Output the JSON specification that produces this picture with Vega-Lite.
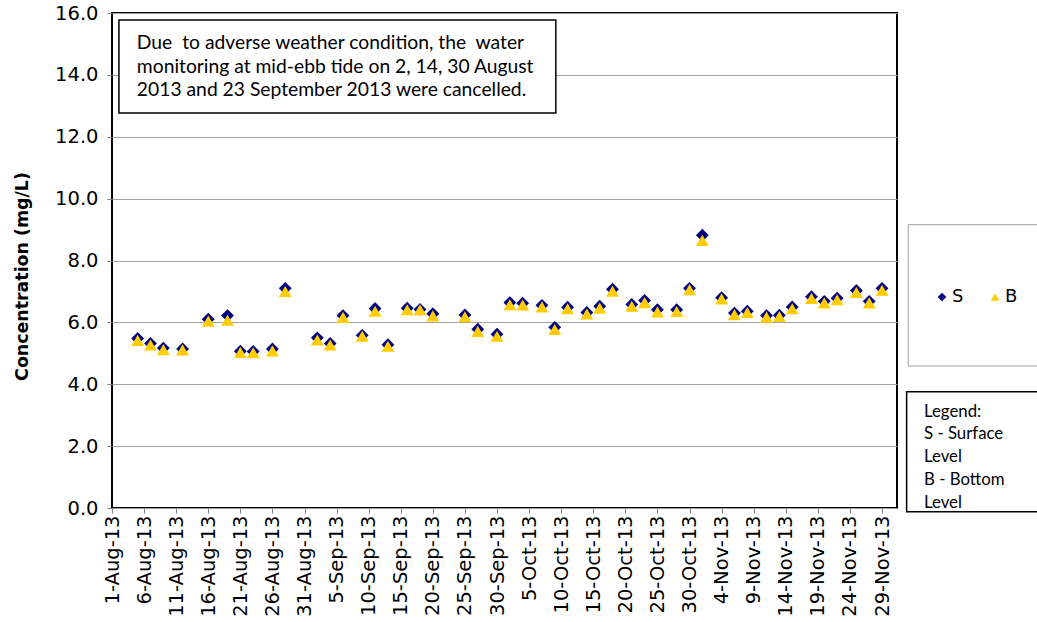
{
  "$schema": "https://vega.github.io/schema/vega-lite/v6.json",
  "width": 785,
  "height": 495,
  "autosize": {"type": "none"},
  "padding": {"left": 112, "top": 13, "right": 140, "bottom": 114},
  "background": "white",
  "config": {
    "view": {"stroke": "black", "strokeWidth": 2},
    "font": "DejaVu Sans"
  },
  "layer": [
    {
      "data": {
        "values": [
          {"date": "2013-08-05", "S": 5.48, "B": 5.42},
          {"date": "2013-08-07", "S": 5.32, "B": 5.27},
          {"date": "2013-08-09", "S": 5.17, "B": 5.12},
          {"date": "2013-08-12", "S": 5.14, "B": 5.11},
          {"date": "2013-08-16", "S": 6.1, "B": 6.04},
          {"date": "2013-08-19", "S": 6.22, "B": 6.07},
          {"date": "2013-08-21", "S": 5.07, "B": 5.03},
          {"date": "2013-08-23", "S": 5.06, "B": 5.02},
          {"date": "2013-08-26", "S": 5.14, "B": 5.08},
          {"date": "2013-08-28", "S": 7.1, "B": 7.0},
          {"date": "2013-09-02", "S": 5.5, "B": 5.43},
          {"date": "2013-09-04", "S": 5.32, "B": 5.27},
          {"date": "2013-09-06", "S": 6.22, "B": 6.16},
          {"date": "2013-09-09", "S": 5.58, "B": 5.55},
          {"date": "2013-09-11", "S": 6.45, "B": 6.36},
          {"date": "2013-09-13", "S": 5.28, "B": 5.23},
          {"date": "2013-09-16", "S": 6.46, "B": 6.41},
          {"date": "2013-09-18", "S": 6.42, "B": 6.41},
          {"date": "2013-09-20", "S": 6.28, "B": 6.21},
          {"date": "2013-09-25", "S": 6.24, "B": 6.18},
          {"date": "2013-09-27", "S": 5.78, "B": 5.71},
          {"date": "2013-09-30", "S": 5.62, "B": 5.55},
          {"date": "2013-10-02", "S": 6.64, "B": 6.57},
          {"date": "2013-10-04", "S": 6.62, "B": 6.56},
          {"date": "2013-10-07", "S": 6.55, "B": 6.5},
          {"date": "2013-10-09", "S": 5.84, "B": 5.77},
          {"date": "2013-10-11", "S": 6.49, "B": 6.44},
          {"date": "2013-10-14", "S": 6.32, "B": 6.27},
          {"date": "2013-10-16", "S": 6.52, "B": 6.46},
          {"date": "2013-10-18", "S": 7.07, "B": 7.01},
          {"date": "2013-10-21", "S": 6.58, "B": 6.52},
          {"date": "2013-10-23", "S": 6.71, "B": 6.64},
          {"date": "2013-10-25", "S": 6.41, "B": 6.34},
          {"date": "2013-10-28", "S": 6.41, "B": 6.35},
          {"date": "2013-10-30", "S": 7.1, "B": 7.06},
          {"date": "2013-11-01", "S": 8.82, "B": 8.65},
          {"date": "2013-11-04", "S": 6.8, "B": 6.76},
          {"date": "2013-11-06", "S": 6.3, "B": 6.25},
          {"date": "2013-11-08", "S": 6.36, "B": 6.32},
          {"date": "2013-11-11", "S": 6.22, "B": 6.17},
          {"date": "2013-11-13", "S": 6.23, "B": 6.19},
          {"date": "2013-11-15", "S": 6.5, "B": 6.44},
          {"date": "2013-11-18", "S": 6.83, "B": 6.77},
          {"date": "2013-11-20", "S": 6.68, "B": 6.63},
          {"date": "2013-11-22", "S": 6.78, "B": 6.73},
          {"date": "2013-11-25", "S": 7.03, "B": 6.97},
          {"date": "2013-11-27", "S": 6.68, "B": 6.63},
          {"date": "2013-11-29", "S": 7.1, "B": 7.04}
        ]
      },
      "transform": [{"fold": ["S", "B"], "as": ["key", "value"]}],
      "mark": {"type": "point", "filled": true, "opacity": 1, "size": 165, "strokeWidth": 0},
      "encoding": {
        "x": {
          "field": "date", "type": "temporal",
          "scale": {"type": "utc", "domain": [{"year": 2013, "month": 8, "date": 1, "utc": true}, {"year": 2013, "month": 12, "date": 1, "hours": 8, "utc": true}]},
          "axis": {
            "values": [
              {"year": 2013, "month": 8, "date": 1, "utc": true},
              {"year": 2013, "month": 8, "date": 6, "utc": true},
              {"year": 2013, "month": 8, "date": 11, "utc": true},
              {"year": 2013, "month": 8, "date": 16, "utc": true},
              {"year": 2013, "month": 8, "date": 21, "utc": true},
              {"year": 2013, "month": 8, "date": 26, "utc": true},
              {"year": 2013, "month": 8, "date": 31, "utc": true},
              {"year": 2013, "month": 9, "date": 5, "utc": true},
              {"year": 2013, "month": 9, "date": 10, "utc": true},
              {"year": 2013, "month": 9, "date": 15, "utc": true},
              {"year": 2013, "month": 9, "date": 20, "utc": true},
              {"year": 2013, "month": 9, "date": 25, "utc": true},
              {"year": 2013, "month": 9, "date": 30, "utc": true},
              {"year": 2013, "month": 10, "date": 5, "utc": true},
              {"year": 2013, "month": 10, "date": 10, "utc": true},
              {"year": 2013, "month": 10, "date": 15, "utc": true},
              {"year": 2013, "month": 10, "date": 20, "utc": true},
              {"year": 2013, "month": 10, "date": 25, "utc": true},
              {"year": 2013, "month": 10, "date": 30, "utc": true},
              {"year": 2013, "month": 11, "date": 4, "utc": true},
              {"year": 2013, "month": 11, "date": 9, "utc": true},
              {"year": 2013, "month": 11, "date": 14, "utc": true},
              {"year": 2013, "month": 11, "date": 19, "utc": true},
              {"year": 2013, "month": 11, "date": 24, "utc": true},
              {"year": 2013, "month": 11, "date": 29, "utc": true}
            ],
            "tickCount": 40,
            "format": "%-d-%b-%y",
            "labelAngle": -90,
            "labelFont": "DejaVu Sans",
            "labelFontSize": 19.5,
            "labelColor": "black",
            "labelPadding": 2,
            "labelOverlap": false,
            "labelFlush": false,
            "tickColor": "#808080",
            "tickSize": 5,
            "domain": false,
            "grid": false,
            "title": null
          }
        },
        "y": {
          "field": "value", "type": "quantitative",
          "scale": {"domain": [0, 16], "nice": false},
          "axis": {
            "values": [0, 2, 4, 6, 8, 10, 12, 14, 16],
            "format": ".1f",
            "labelFont": "DejaVu Sans",
            "labelFontSize": 19.5,
            "labelColor": "black",
            "labelPadding": 9,
            "tickColor": "#808080",
            "tickSize": 5,
            "domain": false,
            "grid": true,
            "gridColor": "#A0A0A0",
            "gridWidth": 1,
            "title": "Concentration (mg/L)",
            "titleFont": "DejaVu Sans",
            "titleFontSize": 17.4,
            "titleFontWeight": "bold",
            "titleColor": "black",
            "titleAngle": -90,
            "titleAlign": "center",
            "titleBaseline": "middle",
            "titleX": -90,
            "titleY": 263
          }
        },
        "color": {
          "field": "key", "type": "nominal",
          "scale": {"domain": ["S", "B"], "range": ["#000080", "#FFCC00"]},
          "legend": {"orient": "none", "legendX": 821, "legendY": 275, "direction": "horizontal", "title": null, "labelFont": "DejaVu Sans", "labelFontSize": 18, "labelColor": "black", "symbolSize": 75, "columnPadding": 22, "labelOffset": 1, "padding": 0}
        },
        "shape": {
          "field": "key", "type": "nominal",
          "scale": {"domain": ["S", "B"], "range": ["diamond", "triangle-up"]},
          "legend": {"orient": "none", "legendX": 821, "legendY": 275, "direction": "horizontal", "title": null, "labelFont": "DejaVu Sans", "labelFontSize": 18, "labelColor": "black", "symbolSize": 75, "columnPadding": 22, "labelOffset": 1, "padding": 0}
        }
      }
    },
    {
      "data": {"values": [{}]},
      "mark": {"type": "rect", "fill": "white", "stroke": "black", "strokeWidth": 1.5},
      "encoding": {
        "x": {"datum": {"year": 2013, "month": 8, "date": 2, "hours": 2, "utc": true}, "type": "temporal"},
        "x2": {"datum": {"year": 2013, "month": 10, "date": 9, "hours": 4, "utc": true}},
        "y": {"datum": 15.77, "type": "quantitative"},
        "y2": {"datum": 12.77}
      }
    },
    {
      "data": {"values": [{}]},
      "mark": {"type": "text", "align": "left", "baseline": "alphabetic", "font": "Lato", "fontSize": 19.3, "lineHeight": 23.5, "color": "black",
        "text": ["Due \u00a0to adverse weather condition, the \u00a0water", "monitoring at mid-ebb tide on 2, 14, 30 August", "2013 and 23 September 2013 were cancelled."]},
      "encoding": {
        "x": {"datum": {"year": 2013, "month": 8, "date": 4, "hours": 21, "utc": true}, "type": "temporal"},
        "y": {"datum": 14.83, "type": "quantitative"}
      }
    },
    {
      "data": {"values": [{}]},
      "mark": {"type": "rect", "fill": "white", "stroke": "#A0A0A0", "strokeWidth": 1},
      "encoding": {
        "x": {"datum": {"year": 2013, "month": 12, "date": 3, "hours": 2, "utc": true}, "type": "temporal"},
        "x2": {"datum": {"year": 2013, "month": 12, "date": 26, "utc": true}},
        "y": {"datum": 9.157, "type": "quantitative"},
        "y2": {"datum": 4.59}
      }
    },
    {
      "data": {"values": [{}]},
      "mark": {"type": "rect", "fill": "white", "stroke": "black", "strokeWidth": 1.5},
      "encoding": {
        "x": {"datum": {"year": 2013, "month": 12, "date": 2, "hours": 20, "utc": true}, "type": "temporal"},
        "x2": {"datum": {"year": 2013, "month": 12, "date": 26, "utc": true}},
        "y": {"datum": 3.759, "type": "quantitative"},
        "y2": {"datum": -0.119}
      }
    },
    {
      "data": {"values": [{}]},
      "mark": {"type": "text", "align": "left", "baseline": "alphabetic", "font": "Lato", "fontSize": 16.8, "lineHeight": 22.7, "color": "black",
        "text": ["Legend:", "S - Surface", "Level", "B - Bottom", "Level"]},
      "encoding": {
        "x": {"datum": {"year": 2013, "month": 12, "date": 5, "hours": 13, "utc": true}, "type": "temporal"},
        "y": {"datum": 2.951, "type": "quantitative"}
      }
    }
  ]
}
